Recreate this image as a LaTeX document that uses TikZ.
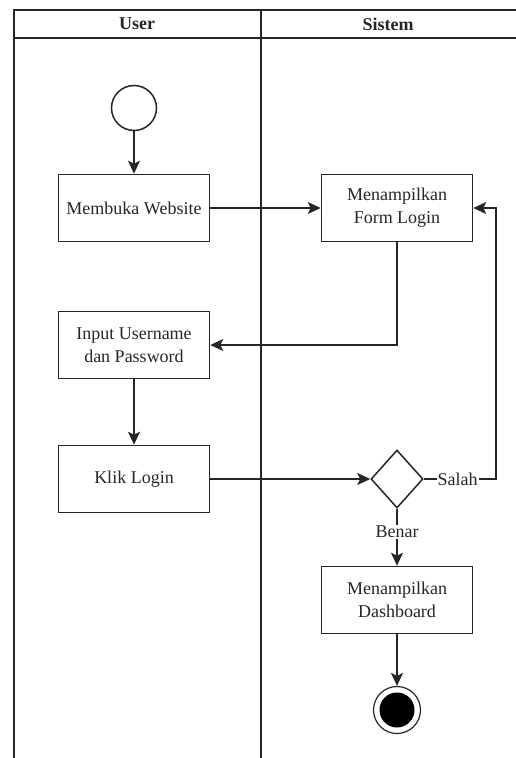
\documentclass[tikz,border=0pt]{standalone}
\usepackage{fontspec}
\setmainfont{Liberation Serif}
\usetikzlibrary{arrows.meta,shapes.geometric}
\begin{document}
\begin{tikzpicture}[x=1pt,y=-1pt,
  every node/.style={font=\fontsize{18}{23}\selectfont, text=black!85},
  lane/.style={line width=1.7pt, draw=black!85},
  actbox/.style={draw=black!85, line width=1.6pt, rectangle, minimum width=151pt, minimum height=67pt, inner sep=0pt, align=center},
  flow/.style={line width=1.6pt, draw=black!85, -{Stealth[length=13pt,width=12pt,inset=3pt]}},
  lbl/.style={fill=white, inner sep=1pt},
  hdr/.style={font=\fontsize{18}{23}\selectfont\bfseries}
]
\useasboundingbox (0,0) rectangle (516,758);
\fill[white] (0,0) rectangle (516,758);

% swimlane frame
\draw[lane] (516,10) -- (14,10) -- (14,758);
\draw[lane] (14,38) -- (516,38);
\draw[lane] (261,10) -- (261,758);
\node[hdr] (huser) at (137,24) {User};
\node[hdr] (hsys) at (388,24) {Sistem};

% activity nodes
\node[circle, draw=black!85, line width=1.5pt, minimum size=45pt, inner sep=0pt] (start) at (134,108) {};
\node[actbox] (web) at (134,208) {Membuka Website};
\node[actbox] (form) at (397,208) {Menampilkan\\Form Login};
\node[actbox] (input) at (134,345) {Input Username\\dan Password};
\node[actbox] (klik) at (134,479) {Klik Login};
\node[diamond, draw=black!85, line width=1.5pt, minimum width=52pt, minimum height=58pt, inner sep=0pt, aspect=0.9] (dec) at (397,479) {};
\node[actbox] (dash) at (397,600) {Menampilkan\\Dashboard};
\node[circle, draw=black!85, line width=1.2pt, minimum size=47pt, inner sep=0pt] (stop) at (397,710) {};
\fill[black] (stop.center) circle (17.5pt);

% control flow
\draw[flow] (start) -- (web);
\draw[flow] (web) -- (form);
\draw[flow] (form.south) |- (input.east);
\draw[flow] (input) -- (klik);
\draw[flow] (klik) -- (dec.west);
\draw[flow] (dec.east) -- node[lbl, pos=0.47] {Salah} ++(72,0) |- (form.east);
\draw[flow] (dec.south) -- node[lbl, pos=0.41] {Benar} (dash.north);
\draw[flow] (dash) -- (stop);
\end{tikzpicture}
\end{document}
